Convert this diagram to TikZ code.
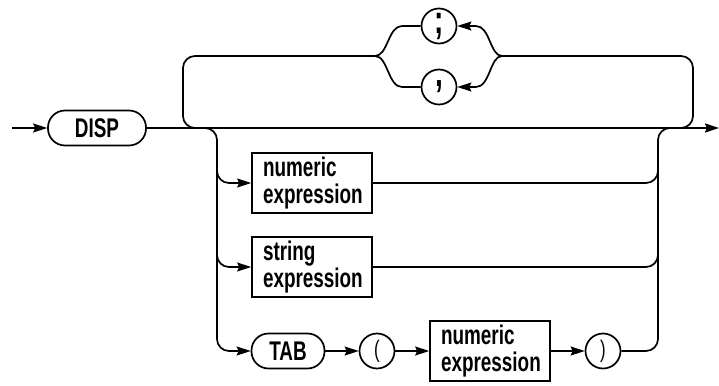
\documentclass[tikz,border=0pt]{standalone}
\usepackage{fontspec}
\setmainfont{Liberation Sans}[FakeStretch=0.7]
\usetikzlibrary{arrows.meta,positioning}

\begin{document}
\begin{tikzpicture}[x=1pt,y=-1pt,line width=1.7pt,
  font=\fontsize{27}{27}\selectfont\bfseries,
  >={Stealth[length=14pt,width=9pt,inset=2pt]},
  pill/.style={draw,rounded corners=17pt,minimum height=35pt,inner xsep=12pt},
  symb/.style={draw,circle,minimum size=35pt,inner sep=0pt,font=\fontsize{40}{40}\selectfont\bfseries},
  paren/.style={symb,font=\fontsize{24}{24}\selectfont\mdseries},
  exprbox/.style={draw,rectangle,minimum height=60pt,text width=98pt,inner xsep=11pt,align=left},
  track/.style={rounded corners=12pt}]

\useasboundingbox (0,0) rectangle (719,385);

\node[pill,minimum width=98pt] (disp) at (97,128) {DISP};
\node[symb] (semi) at (439,26) {;};
\node[symb] (comma) at (439,87) {,};
\node[exprbox] (numA) at (312,183) {numeric\\expression};
\node[exprbox] (str) at (312,267) {string\\expression};
\node[pill,minimum width=73pt] (tab) at (288,351) {TAB};
\node[paren] (lpar) at (377,351) {(};
\node[exprbox] (numB) at (490,351) {numeric\\expression};
\node[paren] (rpar) at (603,351) {)};

\coordinate (start) at (12,128);
\coordinate (finish) at (719,128);
\coordinate (split) at (375,56);
\coordinate (merge) at (502,56);
\coordinate (loopL) at (183,56);
\coordinate (loopR) at (693,56);
\coordinate (dropL) at (217,128);
\coordinate (riseR) at (658,128);

\draw[->] (start) -- (disp);
\draw[->] (disp) -- (finish);

% repeat loop over ; and ,
\draw[track] ([xshift=-20pt]loopR |- finish) -- (loopR |- finish) -- (loopR) -- (merge);
\draw[->] (merge) .. controls (490,56) and (490,26) .. (476,26) -- (semi.east);
\draw[->] (merge) .. controls (490,56) and (490,87) .. (476,87) -- (comma.east);
\draw (semi.west) -- (402,26) .. controls (388,26) and (388,56) .. (split);
\draw (comma.west) -- (402,87) .. controls (388,87) and (388,56) .. (split);
\draw[track] (split) -- (loopL) -- (loopL |- finish) -- ([xshift=20pt]loopL |- finish);

% items
\draw[track,->] ([xshift=-20pt]dropL) -- (dropL) -- (dropL |- tab) -- (tab);
\draw[track,->] (dropL |- numA.north) -- (dropL |- numA) -- (numA);
\draw[track,->] (dropL |- str.north) -- (dropL |- str) -- (str);
\draw[->] (tab) -- (lpar);
\draw[->] (lpar) -- (numB);
\draw[->] (numB) -- (rpar);
\draw[track] (rpar) -- (riseR |- rpar) -- (riseR) -- ([xshift=20pt]riseR);
\draw[track] (numA) -- (riseR |- numA) -- (riseR |- numA.north);
\draw[track] (str) -- (riseR |- str) -- (riseR |- str.north);
\end{tikzpicture}
\end{document}
